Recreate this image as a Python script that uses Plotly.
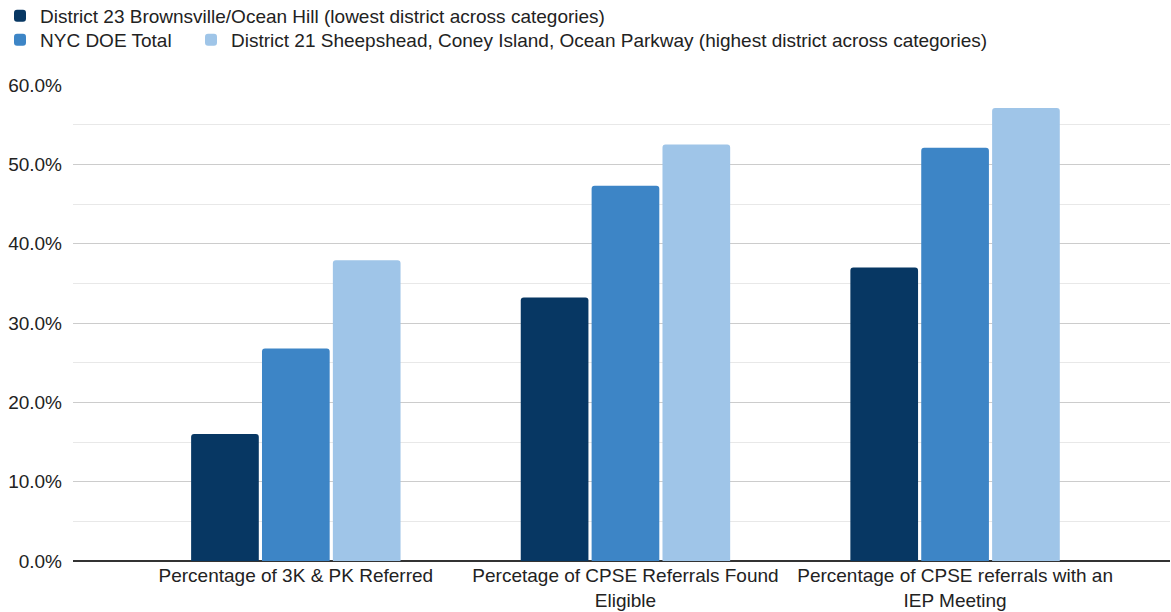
import plotly.graph_objects as go

categories = ["Percentage of 3K & PK Referred",
              "Percetage of CPSE Referrals Found<br>Eligible",
              "Percentage of CPSE referrals with an<br>IEP Meeting"]
series_names = ["District 23 Brownsville/Ocean Hill (lowest district across categories)",
                "NYC DOE Total",
                "District 21 Sheepshead, Coney Island, Ocean Parkway (highest district across categories)"]
district23 = [0.160, 0.332, 0.370]
nyc_total = [0.268, 0.473, 0.521]
district21 = [0.379, 0.525, 0.571]
colors = ["#073763", "#3d85c6", "#9fc5e8"]
y_ticks = [0, 0.1, 0.2, 0.3, 0.4, 0.5, 0.6]

xpos = list(range(len(categories)))
legend_ids = ["legend", "legend2", "legend3"]
fig = go.Figure()
for i, (name, vals) in enumerate(zip(series_names, [district23, nyc_total, district21])):
    fig.add_trace(go.Bar(
        x=xpos, y=vals, name=name, marker_color=colors[i],
        marker_line_width=0, showlegend=True,
        legend=legend_ids[i],
    ))

font = "Liberation Sans, Arial, sans-serif"
txt = "#222222"
H = 612


def leg(xpx, ypx):
    return dict(orientation="h", xref="container", yref="container",
                x=xpx / 1171, y=1 - ypx / H, xanchor="left", yanchor="middle",
                font=dict(size=19, color=txt), borderwidth=0,
                bgcolor="rgba(0,0,0,0)")


fig.update_layout(
    width=1171, height=H,
    margin=dict(l=73, r=1, t=85, b=51),
    paper_bgcolor="white", plot_bgcolor="white",
    showlegend=True,
    barmode="group", bargap=0.355, bargroupgap=0.045,
    barcornerradius=3,
    font=dict(family=font, size=19, color=txt),
    legend=leg(0, 16),
    legend2=leg(0, 40),
    legend3=leg(191, 40),
    xaxis=dict(range=[-0.676, 2.652], tickvals=xpos, ticktext=categories,
               showgrid=False, zeroline=False, showline=False, ticks="",
               ticklabelstandoff=1,
               tickfont=dict(size=19, color=txt), automargin=False),
    yaxis=dict(range=[0, 0.6], tickvals=y_ticks, tickformat=".1%",
               showgrid=True, gridcolor="#cccccc", gridwidth=1,
               zeroline=True, zerolinecolor="#333333", zerolinewidth=1.5,
               minor=dict(dtick=0.05, tick0=0, showgrid=True, gridcolor="#e8e8e8", gridwidth=1),
               ticks="", ticklabelstandoff=10,
               tickfont=dict(size=19, color=txt), automargin=False),
)

fig.write_html("out.html", config={"displayModeBar": False},
               post_script="document.body.style.margin='0';")
